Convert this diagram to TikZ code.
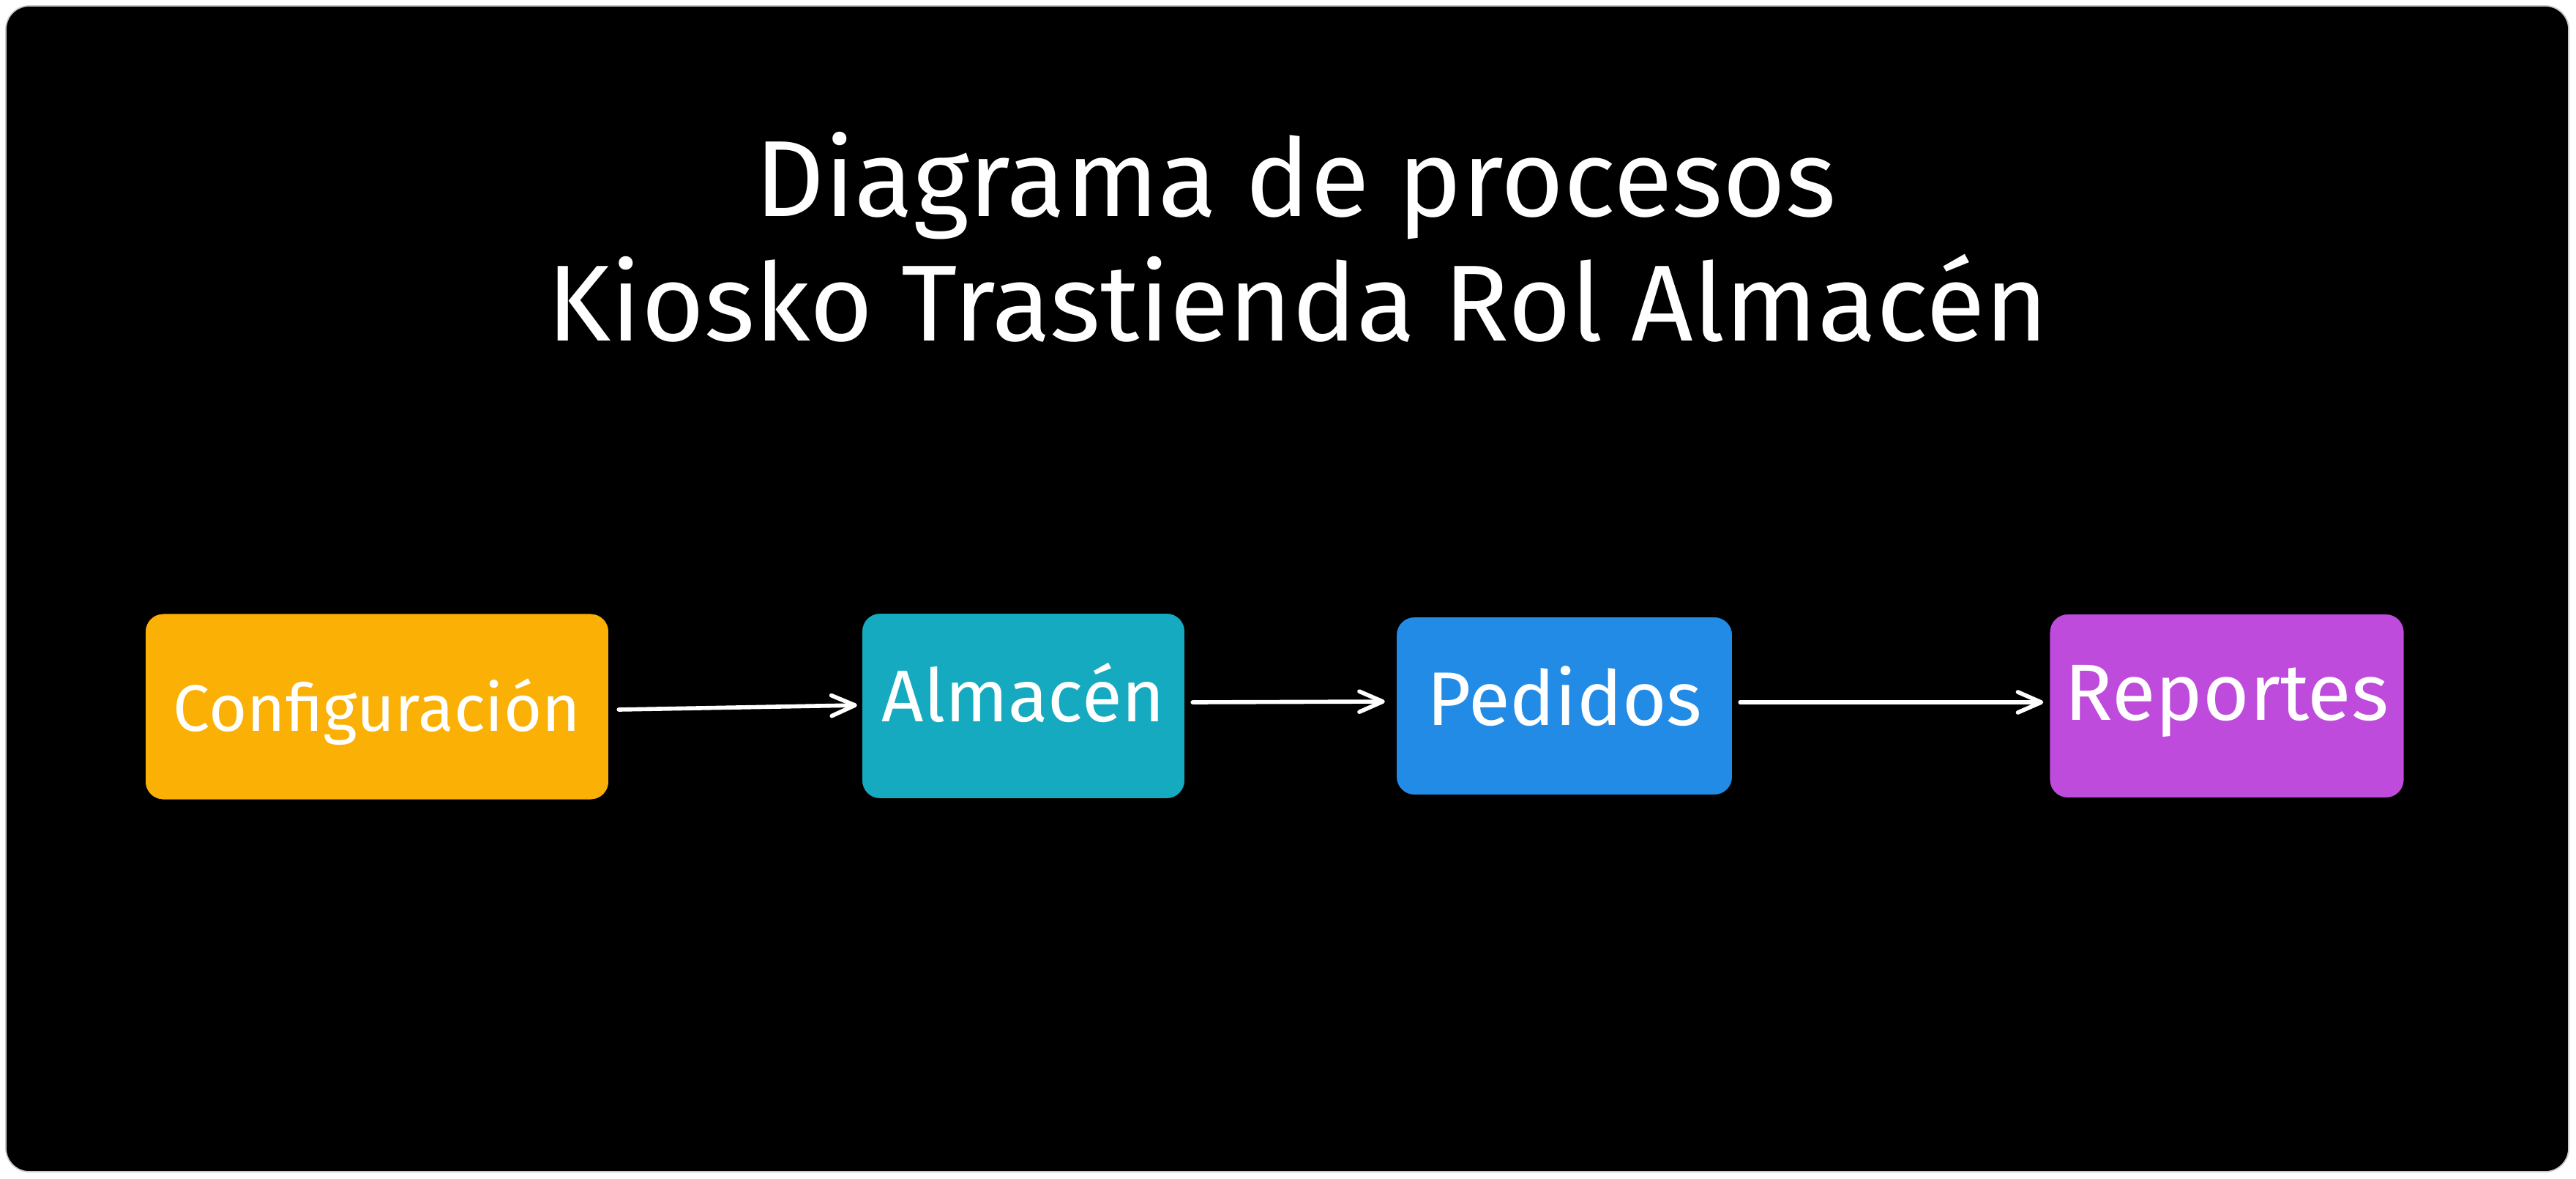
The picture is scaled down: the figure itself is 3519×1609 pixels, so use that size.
\documentclass[tikz,border=0pt]{standalone}
\usepackage{fontspec}
\setmainfont{Fira Sans}
\usetikzlibrary{arrows.meta,calc}
\definecolor{cfgc}{HTML}{FAB005}
\definecolor{almc}{HTML}{15AABF}
\definecolor{pedc}{HTML}{228BE6}
\definecolor{repc}{HTML}{BE4BDB}
\definecolor{framec}{HTML}{C8C8C8}
\begin{document}
\begin{tikzpicture}[x=0.01cm,y=-0.01cm,
  box/.style={draw=black, line width=0.6pt, rounded corners=0.25cm, text=white, inner sep=0pt, text depth=0pt},
  ttl/.style={text=white, inner sep=0pt, font=\fontsize{42}{50}\selectfont},
  arr/.style={draw=white, line width=1.6pt, line cap=round, -{Straight Barb[length=0.32cm,width=0.28cm,round]}}]
\useasboundingbox (0,0) rectangle (3519,1609);
\fill[white] (0,0) rectangle (3519,1609);
\draw[fill=black, draw=framec, line width=0.5pt, rounded corners=0.32cm] (8,8) rectangle (3509,1600);

\node[ttl, anchor=base] (t1) at (1770,295) {Diagrama de procesos};
\node[ttl, anchor=base] (t2) at (1773,465) {Kiosko Trastienda Rol Almacén};

\node[box, fill=cfgc, minimum width=6.34cm, minimum height=2.55cm, text height=18.8pt, font=\fontsize{25.5}{30}\selectfont] (c1) at (515,965) {Configuración};
\node[box, fill=almc, minimum width=4.42cm, minimum height=2.54cm, text height=12pt, font=\fontsize{28.5}{34}\selectfont] (c2) at (1398,964) {Almacén};
\node[box, fill=pedc, minimum width=4.60cm, minimum height=2.44cm, text height=14.8pt, font=\fontsize{29.5}{35}\selectfont] (c3) at (2137,964) {Pedidos};
\node[box, fill=repc, minimum width=4.85cm, minimum height=2.52cm, text height=10.8pt, font=\fontsize{31}{37}\selectfont] (c4) at (3042,964) {Reportes};

\draw[arr] ($(c1.east)+(12,4)$) -- ($(c2.west)+(-5,-1)$);
\draw[arr] ($(c2.east)+(9,-5)$) -- ($(c3.west)+(-14,-6)$);
\draw[arr] ($(c3.east)+(9,-5)$) -- ($(c4.west)+(-7,-5)$);
\end{tikzpicture}
\end{document}
